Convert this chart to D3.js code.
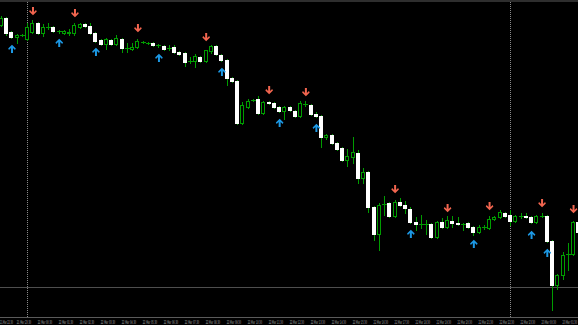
<!DOCTYPE html>
<html lang="en">
<head>
    <meta charset="UTF-8">
    <script src="https://d3js.org/d3.v7.min.js"></script>
    <style>
        body { margin: 0; background: #000; }
    </style>
</head>
<body>
    <div id="chart">
        <script>
            // bar prices, in points (one candle per entry)
            var opens = [
                375,382,368,363,365,361,368,377,367,373,
                373,369,367,367,367,373,376,374,367,360,
                356,360,356,361,352,351,353,358,357,357,
                355,354,352,353,348,347,339,339,343,339,
                349,354,345,340,322,319,277,293,300,301,
                287,298,297,293,289,293,289,284,296,295,
                286,284,263,265,257,252,240,243,247,222,
                228,193,166,196,197,184,198,195,191,178,
                176,176,176,163,178,173,179,177,176,177,
                173,168,173,172,181,183,187,185,179,184,
                184,183,178,184,184,159,115,125,146,146,
                178
            ];
            var highs = [
                384,383,369,366,366,377,380,378,376,377,
                374,370,370,371,377,377,377,377,368,361,
                362,361,365,362,357,357,361,359,358,358,
                356,355,355,355,349,348,343,346,344,350,
                355,355,346,341,323,320,298,301,301,304,
                299,299,298,294,294,294,290,299,299,296,
                288,285,266,266,258,253,251,263,250,232,
                229,194,197,204,198,200,202,199,193,183,
                185,180,177,179,182,184,184,183,177,178,
                174,175,175,184,184,190,188,190,185,187,
                187,184,185,187,185,160,126,148,157,179,
                180
            ];
            var lows = [
                374,365,362,357,364,360,367,366,364,371,
                368,367,366,365,365,372,373,366,358,355,
                351,355,355,348,348,350,352,357,356,354,
                353,350,350,347,345,334,337,333,338,338,
                347,345,339,315,318,276,276,292,299,286,
                286,296,292,288,281,289,283,283,294,285,
                283,253,261,256,250,239,234,237,217,217,
                188,160,150,185,183,183,194,187,177,170,
                172,166,162,162,172,172,173,175,170,172,
                165,167,171,171,180,182,183,175,178,182,
                182,177,177,183,158,90,111,121,130,145,
                167
            ];
            var closes = [
                382,367,363,365,365,373,377,367,373,373,
                369,369,369,368,375,376,374,367,359,356,
                361,356,362,352,352,353,359,358,357,355,
                355,351,352,348,346,338,339,344,339,350,
                354,346,340,322,319,277,295,299,300,287,
                298,297,293,289,293,290,284,297,296,286,
                284,263,265,257,251,240,244,248,222,228,
                193,166,195,196,184,198,195,192,178,176,
                176,176,163,178,173,180,177,176,176,173,
                168,173,173,181,183,188,184,179,184,184,
                183,178,184,184,159,115,125,145,146,178,
                168
            ];

            // signal arrows
            var downBars = [6, 14, 26, 39, 51, 58, 75, 85, 93, 103, 109];
            var downPrices = [389, 387, 372, 363, 310, 308, 211, 192, 194, 197, 191];
            var upBars = [2, 11, 18, 30, 42, 53, 60, 78, 90, 101, 104];
            var upPrices = [351, 357, 348, 342, 328, 277, 272, 166, 156, 165, 147];

            var separatorBars = [5, 97];
            var levelPrice = 113;

            // one label every 4 bars, first one at bar -1
            var timeLabels = [
                "21 Mar 22:30","21 Mar 23:30","22 Mar 00:30","22 Mar 01:30","22 Mar 02:30",
                "22 Mar 03:30","22 Mar 04:30","22 Mar 05:30","22 Mar 06:30","22 Mar 07:30",
                "22 Mar 08:30","22 Mar 09:30","22 Mar 10:30","22 Mar 11:30","22 Mar 12:30",
                "22 Mar 13:30","22 Mar 14:30","22 Mar 15:30","22 Mar 16:30","22 Mar 17:30",
                "22 Mar 18:30","22 Mar 19:30","22 Mar 20:30","22 Mar 21:30","22 Mar 22:30",
                "22 Mar 23:30","23 Mar 00:30","23 Mar 01:30"
            ];

            var width = 578,
                height = 325,
                plotBottom = 317;

            var green = "#009c00";

            var svg = d3.select("#chart")
                .append("svg")
                .attr("width", width)
                .attr("height", height)
                .style("display", "block")
                .style("background", "#000");

            var x = d3.scaleLinear().domain([0, 110]).range([1.5, 578.8]);
            var y = d3.scaleLinear().domain([83, 400]).range([plotBottom, 0]);

            var bars = opens.map(function (o, i) {
                return { i: i, o: o, h: highs[i], l: lows[i], c: closes[i] };
            });

            function px(i) { return Math.floor(x(i)) + 0.5; }

            // top strip
            svg.append("rect")
                .attr("x", 0).attr("y", 0)
                .attr("width", width).attr("height", 2)
                .attr("fill", "#2e2e2e");

            // period separators
            svg.selectAll("line.sep")
                .data(separatorBars)
                .enter()
                .append("line")
                .attr("class", "sep")
                .attr("x1", function (d) { return px(d); })
                .attr("x2", function (d) { return px(d); })
                .attr("y1", 2)
                .attr("y2", plotBottom)
                .attr("stroke", "#8a8a8a")
                .attr("stroke-dasharray", "1,1")
                .attr("shape-rendering", "crispEdges");

            // horizontal level
            svg.append("line")
                .attr("x1", 0).attr("x2", width)
                .attr("y1", Math.round(y(levelPrice)) + 0.5)
                .attr("y2", Math.round(y(levelPrice)) + 0.5)
                .attr("stroke", "#4e4e4e")
                .attr("shape-rendering", "crispEdges");

            // wicks
            svg.selectAll("line.wick")
                .data(bars)
                .enter()
                .append("line")
                .attr("class", "wick")
                .attr("x1", function (d) { return px(d.i); })
                .attr("x2", function (d) { return px(d.i); })
                .attr("y1", function (d) { return Math.round(y(d.h)); })
                .attr("y2", function (d) { return Math.round(y(d.l)) + 1; })
                .attr("stroke", green)
                .attr("shape-rendering", "crispEdges");

            // bodies
            svg.selectAll("rect.body")
                .data(bars.filter(function (d) { return d.o !== d.c; }))
                .enter()
                .append("rect")
                .attr("class", "body")
                .attr("x", function (d) { return px(d.i) - 2; })
                .attr("y", function (d) { return Math.round(y(Math.max(d.o, d.c))) + 0.5; })
                .attr("width", 3)
                .attr("height", function (d) {
                    return Math.max(1, Math.round(y(Math.min(d.o, d.c))) - Math.round(y(Math.max(d.o, d.c))));
                })
                .attr("fill", function (d) { return d.c > d.o ? "#000" : "#fff"; })
                .attr("stroke", function (d) { return d.c > d.o ? green : "#fff"; })
                .attr("shape-rendering", "crispEdges");

            // doji bars
            svg.selectAll("line.doji")
                .data(bars.filter(function (d) { return d.o === d.c; }))
                .enter()
                .append("line")
                .attr("class", "doji")
                .attr("x1", function (d) { return px(d.i) - 2.5; })
                .attr("x2", function (d) { return px(d.i) + 2.5; })
                .attr("y1", function (d) { return Math.round(y(d.o)) + 0.5; })
                .attr("y2", function (d) { return Math.round(y(d.o)) + 0.5; })
                .attr("stroke", green)
                .attr("shape-rendering", "crispEdges");

            // arrows
            var downPath = "M-1,-4L1,-4L1,1L3,-1L3.8,0.4L0,4.2L-3.8,0.4L-3,-1L-1,1Z";
            var upPath = "M-1,4L1,4L1,-1L3,1L3.8,-0.4L0,-4.2L-3.8,-0.4L-3,1L-1,-1Z";

            svg.selectAll("path.down")
                .data(downBars)
                .enter()
                .append("path")
                .attr("class", "down")
                .attr("d", downPath)
                .attr("transform", function (d, k) {
                    return "translate(" + x(d) + "," + y(downPrices[k]) + ")";
                })
                .attr("fill", "#f2654f");

            svg.selectAll("path.up")
                .data(upBars)
                .enter()
                .append("path")
                .attr("class", "up")
                .attr("d", upPath)
                .attr("transform", function (d, k) {
                    return "translate(" + x(d) + "," + y(upPrices[k]) + ")";
                })
                .attr("fill", "#1c98e4");

            // time axis
            svg.append("line")
                .attr("x1", 0).attr("x2", width)
                .attr("y1", plotBottom + 0.5).attr("y2", plotBottom + 0.5)
                .attr("stroke", "#5a5a5a")
                .attr("shape-rendering", "crispEdges");

            // labels are squeezed horizontally to the narrow width of the original
            svg.selectAll("text.time")
                .data(timeLabels)
                .enter()
                .append("text")
                .attr("class", "time")
                .attr("font-family", "DejaVu Sans")
                .attr("font-size", "5px")
                .attr("fill", "#a8a8a8")
                .text(function (d) { return d; })
                .attr("transform", function (d, k) {
                    var left = Math.max(0, x(4 * k - 1) - 0.5);
                    var w = Math.min(k === 0 ? 13 : 14.5, width - 0.5 - left);
                    var sx = w / this.getComputedTextLength();
                    return "translate(" + left + ",323.5) scale(" + sx + ",1)";
                });
        </script>
    </div>
</body>
</html>
